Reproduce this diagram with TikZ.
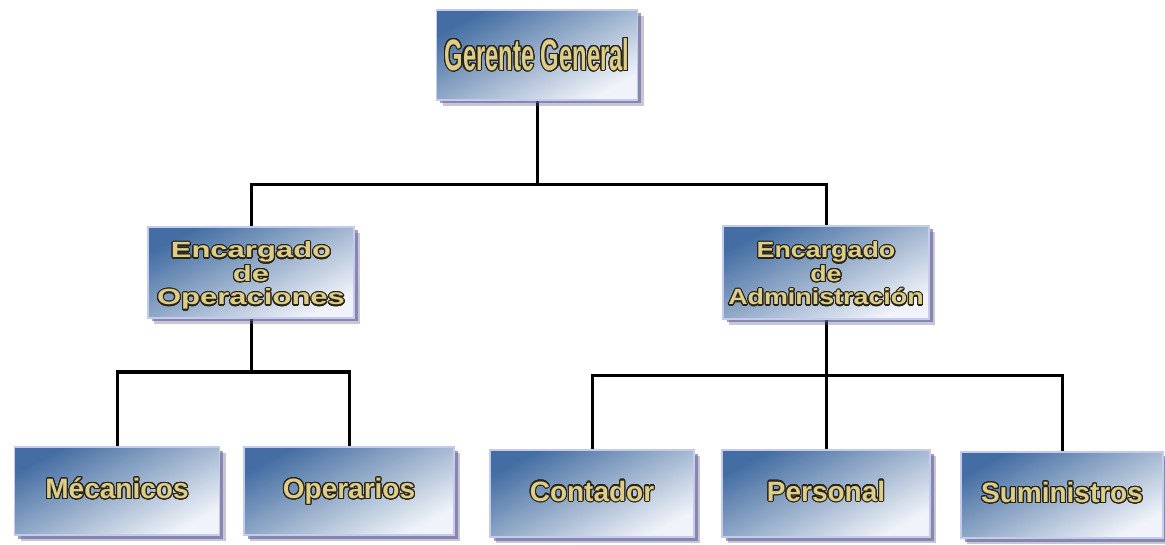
\documentclass[tikz,border=0pt]{standalone}
\usepackage{fontspec}
\setmainfont{Liberation Sans}
\newfontfamily\ggfont[FakeStretch=0.54]{Liberation Sans}
\newfontfamily\opfont[FakeStretch=1.41]{Liberation Sans}
\newfontfamily\admfont[FakeStretch=1.22]{Liberation Sans}
\usepackage[copies]{contour}
\contourlength{1.1pt}
\contournumber{24}
\usetikzlibrary{shadows}
\pgfdeclarelayer{background}
\pgfsetlayers{background,main}
\definecolor{boxdark}{HTML}{446EA3}
\definecolor{boxmid}{HTML}{9AB0CC}
\definecolor{boxlight}{HTML}{F0F3F9}
\definecolor{rimc}{HTML}{C4CBEE}
\definecolor{shadowc}{HTML}{5E5E92}
\definecolor{goldc}{HTML}{DCCE8A}
\definecolor{inkc}{HTML}{2A2416}
\newcommand{\gt}[1]{{\color{goldc}\contour{inkc}{#1}}}
\begin{document}
\begin{tikzpicture}[x=1pt,y=-1pt,
  orgbox/.style={rectangle, inner sep=0pt, draw=rimc, line width=1.3pt,
    top color=boxdark, bottom color=boxlight, middle color=boxmid, shading angle=28,
    general shadow={fill=shadowc, opacity=0.35, shadow xshift=6pt, shadow yshift=-6pt},
    general shadow={fill=shadowc, opacity=0.6, shadow xshift=3.5pt, shadow yshift=-3.5pt},
    align=center},
  ggtext/.style={font=\ggfont\bfseries\fontsize{44}{48}\selectfont},
  optext/.style={font=\opfont\bfseries\fontsize{22}{23.5}\selectfont, text height=71pt, text depth=6pt},
  admtext/.style={font=\admfont\bfseries\fontsize{22}{23.5}\selectfont, text height=71pt, text depth=6pt},
  lowtext/.style={font=\bfseries\fontsize{28}{30}\selectfont, text height=21pt, text depth=6pt},
  link/.style={line width=3pt, black}]
\useasboundingbox (0,0) rectangle (1165,545);

\node[orgbox, ggtext, minimum width=201pt, minimum height=90pt] (gg) at (537,55) {\gt{Gerente General}};
\node[orgbox, optext, minimum width=206pt, minimum height=91pt] (op) at (251,272.5) {\gt{Encargado}\\\gt{de}\\\gt{Operaciones}};
\node[orgbox, admtext, minimum width=206pt, minimum height=93pt] (adm) at (826,272.5) {\gt{Encargado}\\\gt{de}\\\gt{Administración}};
\node[orgbox, lowtext, minimum width=205pt, minimum height=88pt] (mec) at (117,491) {\gt{Mécanicos}};
\node[orgbox, lowtext, minimum width=210pt, minimum height=88pt] (oper) at (349,491) {\gt{Operarios}};
\node[orgbox, lowtext, minimum width=204pt, minimum height=87pt] (cont) at (592,493.5) {\gt{Contador}};
\node[orgbox, lowtext, minimum width=208pt, minimum height=87pt] (pers) at (826,493.5) {\gt{Personal}};
\node[orgbox, lowtext, minimum width=202pt, minimum height=86pt] (sum) at (1062,495) {\gt{Suministros}};

\coordinate (j1) at (537,185);
\coordinate (j2) at (251,372);
\coordinate (j3) at (826,375);

\begin{pgfonlayer}{background}
\fill[white] (0,0) rectangle (1165,545);
\draw[link] (gg) -- (j1);
\draw[link] (op) |- (j1) -| (adm);
\draw[link] (op) -- (j2);
\draw[link] (mec) |- (j2) -| (oper);
\draw[link] (adm) -- (j3);
\draw[link] (cont) |- (j3) -| (sum);
\draw[link] (pers) -- (j3);
\end{pgfonlayer}
\end{tikzpicture}
\end{document}
